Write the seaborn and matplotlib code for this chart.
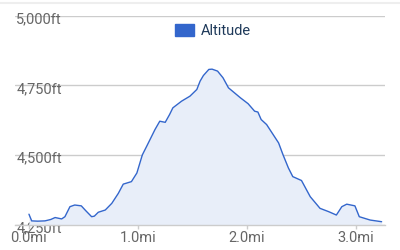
import matplotlib
matplotlib.use("Agg")
import matplotlib.pyplot as plt
import matplotlib.transforms as mtransforms
from matplotlib.patches import Patch
from matplotlib.lines import Line2D
import seaborn as sns
import pandas as pd

# Data
distance_mi = [0.00, 0.025, 0.08, 0.147, 0.20, 0.24, 0.30, 0.33, 0.376, 0.42,
               0.48, 0.52, 0.575, 0.60, 0.636, 0.70, 0.76, 0.82, 0.865, 0.94,
               0.99, 1.04, 1.08, 1.156, 1.20, 1.25, 1.29, 1.32, 1.40, 1.477,
               1.54, 1.57, 1.60, 1.65, 1.68, 1.73, 1.78, 1.83, 1.94, 2.01,
               2.05, 2.07, 2.10, 2.13, 2.18, 2.23, 2.29, 2.33, 2.38, 2.42, 2.50,
               2.58, 2.67, 2.75, 2.82, 2.87, 2.915, 2.99, 3.03, 3.13, 3.235]
altitude_ft = [4287, 4263, 4262, 4263, 4268, 4275, 4270, 4278, 4314, 4320,
               4317, 4300, 4278, 4280, 4294, 4302, 4326, 4362, 4395, 4404,
               4435, 4500, 4531, 4591, 4621, 4617, 4645, 4669, 4693, 4711,
               4735, 4765, 4785, 4807, 4808, 4801, 4777, 4741, 4705, 4684,
               4666, 4657, 4654, 4627, 4609, 4579, 4543, 4501, 4453, 4422, 4408,
               4350, 4308, 4296, 4284, 4314, 4323, 4317, 4278, 4266, 4260]
y_ticks = [4250, 4500, 4750, 5000]
y_tick_labels = ["4,250ft", "4,500ft", "4,750ft", "5,000ft"]
x_ticks = [0.0, 1.0, 2.0, 3.0]
x_tick_labels = ["0.0mi", "1.0mi", "2.0mi", "3.0mi"]
series_name = "Altitude"

df = pd.DataFrame({"distance": distance_mi, "altitude": altitude_ft})

sns.set_theme(style="white")
plt.rcParams["font.family"] = ["Roboto", "DejaVu Sans"]

line_color = "#3366cc"
fill_color = "#e8eef9"
grid_color = "#cccccc"
label_color = "#666666"
fs = 10.5

fig = plt.figure(figsize=(4, 2.5), dpi=100)
ax = fig.add_axes([15 / 400, (250 - 224.5) / 250, 370 / 400, (224.5 - 15.7) / 250])

ax.fill_between(df["distance"], df["altitude"], 4250, color=fill_color, linewidth=0, zorder=1)
sns.lineplot(data=df, x="distance", y="altitude", ax=ax, color=line_color,
             linewidth=1.0, zorder=3, legend=False)

ax.set_xlim(-0.128, 3.266)
ax.set_ylim(4250, 5000)

for s in ["top", "right", "left"]:
    ax.spines[s].set_visible(False)
ax.spines["bottom"].set_color(grid_color)
ax.spines["bottom"].set_linewidth(1.0)
ax.spines["bottom"].set_zorder(4)

ax.set_yticks(y_ticks)
ax.set_yticklabels(y_tick_labels)
ax.set_xticks(x_ticks)
ax.set_xticklabels(x_tick_labels)
ax.yaxis.grid(True, color=grid_color, linewidth=1.0, zorder=0)
ax.set_axisbelow(True)

ax.tick_params(axis="y", length=0, pad=-1, labelsize=fs, labelcolor=label_color)
ax.tick_params(axis="x", bottom=True, length=3, width=1, color=grid_color, pad=2.0,
               labelsize=fs, labelcolor=label_color)
offset = mtransforms.ScaledTranslation(0, -2 / 100, fig.dpi_scale_trans)
for lab in ax.get_yticklabels():
    lab.set_horizontalalignment("left")
    lab.set_transform(lab.get_transform() + offset)
    lab.set_zorder(5)

ax.set_xlabel("")
ax.set_ylabel("")

handle = Patch(facecolor=line_color, edgecolor=line_color, label=series_name)
leg = ax.legend(handles=[handle], loc="upper center", bbox_to_anchor=(0.535, 1.0),
                frameon=False, fontsize=fs, handlelength=1.3, handleheight=0.95,
                handletextpad=0.5, borderaxespad=0.15)
for t in leg.get_texts():
    t.set_color("#1f3a5a")

fig.add_artist(Line2D([0, 1], [0.99, 0.99], transform=fig.transFigure,
                      color="#eeeeee", linewidth=1.5))

fig.savefig("out.png", dpi=100)
